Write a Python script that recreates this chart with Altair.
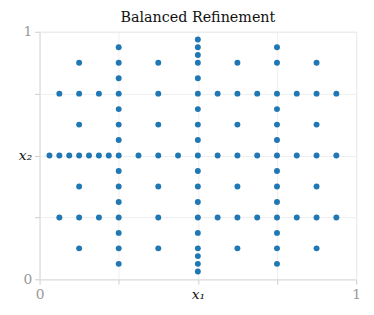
import altair as alt
import pandas as pd

# point coordinates (sparse "balanced refinement" grid)
row_half_x = [0.03125, 0.0625, 0.09375, 0.125, 0.15625, 0.1875, 0.21875, 0.25,
              0.3125, 0.375, 0.4375, 0.5, 0.5625, 0.625, 0.6875, 0.75, 0.8125, 0.875, 0.9375]
row_quarter_x = [0.0625, 0.125, 0.1875, 0.25, 0.375, 0.5, 0.5625, 0.625, 0.6875,
                 0.75, 0.8125, 0.875, 0.9375]
col_half_y = [0.03125, 0.0625, 0.09375, 0.125, 0.1875, 0.3125, 0.375, 0.4375,
              0.5625, 0.625, 0.6875, 0.8125, 0.875, 0.90625, 0.9375, 0.96875]
col_quarter_y = [0.0625, 0.125, 0.1875, 0.3125, 0.375, 0.4375, 0.5625, 0.625,
                 0.6875, 0.8125, 0.875, 0.9375]
col_three_quarter_y = [0.0625, 0.125, 0.1875, 0.3125, 0.375, 0.4375, 0.5625, 0.625,
                       0.6875, 0.875, 0.9375]
eighth_cols_x = [0.125, 0.375, 0.625, 0.875]
eighth_cols_y = [0.125, 0.375, 0.625, 0.875]

xs, ys = [], []
for x in row_half_x:
    xs.append(x); ys.append(0.5)
for yy in (0.25, 0.75):
    for x in row_quarter_x:
        xs.append(x); ys.append(yy)
for y in col_half_y:
    xs.append(0.5); ys.append(y)
for y in col_quarter_y:
    xs.append(0.25); ys.append(y)
for y in col_three_quarter_y:
    xs.append(0.75); ys.append(y)
for x in eighth_cols_x:
    for y in eighth_cols_y:
        xs.append(x); ys.append(y)

df = pd.DataFrame({"x1": xs, "x2": ys}).drop_duplicates()

tick_vals = [0, 0.25, 0.5, 0.75, 1]
font = "DejaVu Serif"

def axis(name):
    return alt.Axis(
        values=tick_vals,
        title=None,
        labelExpr=f"datum.value == 0 ? '0' : datum.value == 1 ? '1' : datum.value == 0.5 ? '{name}' : ''",
        labelColor={"condition": {"test": "datum.value == 0.5", "value": "#111"}, "value": "#999"},
        labelFontStyle={"condition": {"test": "datum.value == 0.5", "value": "italic"}, "value": "normal"},
        labelFont=font,
        labelFontSize=14,
        labelFontWeight="normal",
        labelPadding=3,
        tickColor="#ccc",
        tickSize=5,
        domainColor="#ddd",
        gridColor="#eee",
        labelFlush=False,
        labelOverlap=False,
    )

chart = alt.Chart(df).mark_circle(size=36, opacity=1, color="#1f77b4").encode(
    x=alt.X("x1:Q", scale=alt.Scale(domain=[0, 1], nice=False), axis=axis("x₁")),
    y=alt.Y("x2:Q", scale=alt.Scale(domain=[0, 1], nice=False), axis=axis("x₂")),
).properties(
    width=321,
    height=251,
    padding={"left": 10, "top": 0, "right": 5, "bottom": 5},
    title=alt.TitleParams("Balanced Refinement", font=font, fontSize=14.5,
                          fontWeight="normal", color="#111", offset=-1),
).configure_view(stroke="#ddd").configure_axis(labelFont=font)

chart.save("out.html", embed_options={"renderer": "svg", "actions": False})
